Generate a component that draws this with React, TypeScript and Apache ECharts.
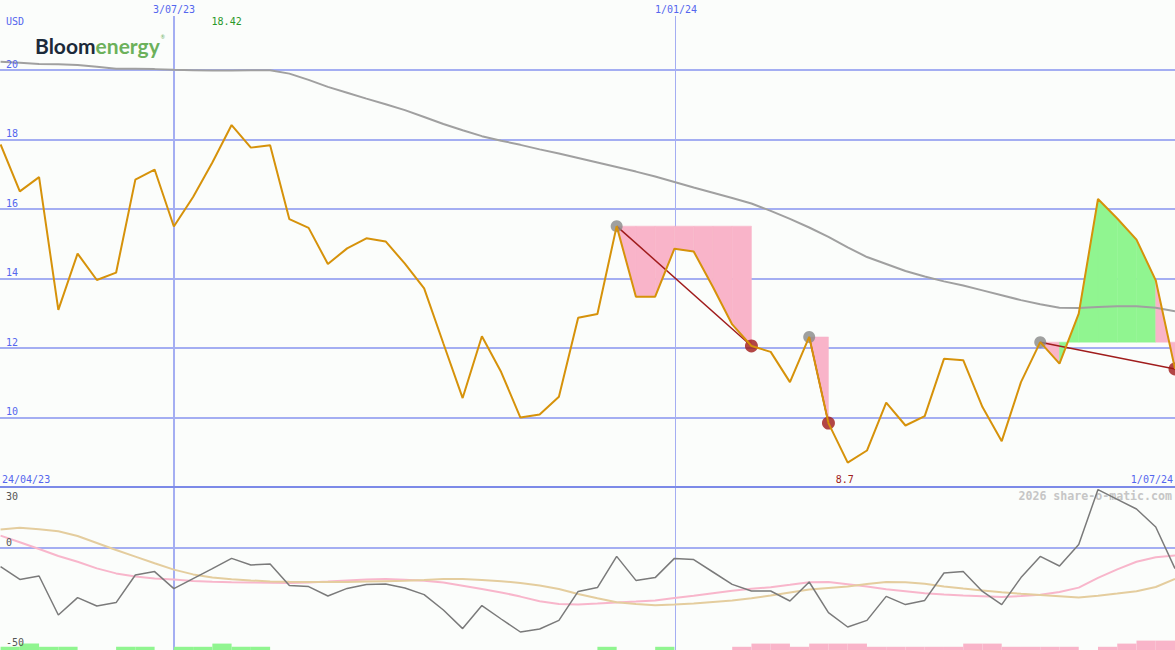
import React, { useEffect, useRef } from "react";
import * as echarts from "echarts";

// Weekly closes (USD), week 0 = 1/05/23, last week = 1/07/24
const priceValues = [
  17.86, 16.51, 16.92, 13.1, 14.72, 13.96, 14.17, 16.85, 17.14, 15.5,
  16.35, 17.34, 18.42, 17.77, 17.84, 15.71, 15.46, 14.42, 14.87, 15.16,
  15.07, 14.43, 13.72, 12.13, 10.56, 12.34, 11.31, 10.0, 10.09, 10.6,
  12.87, 12.98, 15.51, 13.48, 13.48, 14.86, 14.78, 13.76, 12.68, 12.06,
  11.89, 11.02, 12.32, 9.84, 8.7, 9.05, 10.43, 9.77, 10.04, 11.69,
  11.65, 10.3, 9.32, 11.02, 12.17, 11.55, 12.99, 16.29, 15.73, 15.12,
  13.95, 11.4,
];

// Long moving average (gray)
const maValues = [
  20.24, 20.21, 20.18, 20.17, 20.15, 20.1, 20.04, 20.04, 20.03, 20.01,
  20.0, 19.99, 19.99, 20.0, 20.0, 19.9, 19.72, 19.52, 19.35, 19.18,
  19.02, 18.85, 18.65, 18.45, 18.27, 18.1, 17.97, 17.85, 17.72, 17.6,
  17.47, 17.34, 17.21, 17.08, 16.94, 16.78, 16.62, 16.47, 16.32, 16.16,
  15.95, 15.72, 15.47, 15.2, 14.9, 14.62, 14.42, 14.22, 14.06, 13.92,
  13.8, 13.66, 13.52, 13.38, 13.26, 13.16, 13.15, 13.18, 13.2, 13.2,
  13.16, 13.06,
];

// Lower panel: oscillator (gray), signal (pink), slow (tan)
const oscValues = [
  -9.3, -15.7, -14, -33.5, -24.8, -29, -27.3, -13.5, -11.8, -20.3,
  -15.3, -10.3, -5.2, -8.5, -8, -18.8, -19.3, -24, -20.2, -18.2,
  -18, -20, -23.3, -31, -40.3, -28.8, -35.5, -42, -40.5, -36.2,
  -21.7, -19.8, -4.2, -16.2, -14.8, -5.2, -5.8, -12, -18.2, -21.5,
  -21.5, -26.5, -17, -32.3, -39.5, -36.2, -24.2, -28.3, -26.2, -12.5,
  -11.8, -21.7, -28.3, -14.8, -4.2, -9, 1.8, 29.2, 24.3, 19.5,
  10.5, -10.3,
];
const oscSignalValues = [
  6.2, 2.9, -0.5, -4.0, -6.9, -10.2, -12.7, -14.2, -15.2, -15.8,
  -16.5, -16.9, -17.1, -17.2, -17.4, -17.5, -17.3, -16.8, -16.2, -15.7,
  -15.5, -15.9, -16.4, -17.3, -18.9, -20.5, -22.2, -24.3, -26.6, -28.0,
  -28.3, -27.8, -27.2, -26.8, -26.3, -25.0, -23.9, -22.6, -21.4, -20.4,
  -19.6, -18.4, -17.1, -17.0, -18.1, -19.2, -20.6, -21.6, -22.6, -23.2,
  -23.7, -24.1, -24.5, -24.0, -23.4, -22.0, -19.8, -14.9, -10.7, -6.9,
  -4.6, -3.7,
];
const oscSlowValues = [
  9.2, 10.1, 9.4, 8.4, 6.0, 2.5, -1.0, -4.3, -7.6, -10.8,
  -13.2, -14.8, -15.6, -16.2, -16.7, -16.9, -17.0, -17.0, -17.0, -16.8,
  -16.6, -16.4, -16.0, -15.5, -15.5, -16.0, -16.6, -17.5, -18.7, -20.5,
  -23.0, -25.1, -27.1, -28.0, -28.6, -28.3, -27.8, -27.0, -26.3, -25.1,
  -23.8, -22.3, -20.8, -20.0, -19.2, -18.0, -17.0, -17.1, -17.9, -19.2,
  -20.3, -21.2, -22.1, -22.9, -23.5, -24.1, -24.8, -23.9, -22.8, -21.6,
  -19.5, -15.5,
];

// Weekly bars at the bottom of the lower panel (segment i covers week i..i+1)
const greenBars = [
  1.6, 3.2, 1.6, 1.6, 0, 0, 1.6, 1.6, 0, 1.6,
  1.6, 3.2, 1.6, 1.6, 0, 0, 0, 0, 0, 0,
  0, 0, 0, 0, 0, 0, 0, 0, 0, 0,
  0, 1.6, 0, 0, 1.6, 0, 0, 0, 0, 0,
  0, 0, 0, 0, 0, 0, 0, 0, 0, 0,
  0, 0, 0, 0, 0, 0, 0, 0, 0, 0,
  0,
];
const pinkBars = [
  0, 0, 0, 0, 0, 0, 0, 0, 0, 0,
  0, 0, 0, 0, 0, 0, 0, 0, 0, 0,
  0, 0, 0, 0, 0, 0, 0, 0, 0, 0,
  0, 0, 0, 0, 0, 0, 0, 0, 1.6, 3.2,
  3.2, 1.6, 3.2, 3.2, 3.2, 1.6, 1.6, 1.6, 1.6, 1.6,
  3.2, 3.2, 1.6, 1.6, 1.6, 1.6, 0, 1.6, 3.2, 4.7,
  4.7,
];

// Trend signals: peak week -> end week, fill between peak level and price
const signalStart = [32, 42, 54];
const signalEnd = [39, 43, 61];
const greenFillSegments = [55, 56, 57, 58, 59];

const priceGridValues = [10, 12, 14, 16, 18, 20];
const panelSplitValue = 8;
const lowerGridValues = [0];
const lowerTickValues = [30, 0, -50];
const dateMarkerIndex = [9, 35];
const dateMarkerLabels = ["3/07/23", "1/01/24"];
const rangeLabels = ["24/04/23", "1/07/24"];
const currencyLabel = "USD";
const watermark = "2026 share-o-matic.com";

const X_MIN = -0.03;
const X_MAX = 61.0;
const Y_MIN = 8;
const Y_MAX = 22.02;
const L_MIN = -51;
const L_MAX = 30.5;

const GRID_C = "#a4aef2";
const SPLIT_C = "#7c8ae8";
const LABEL_C = "#5466ee";
const PINK = "#f9b4c9";
const GREEN = "#90f590";
const MONO = '"DejaVu Sans Mono", monospace';

export default function App() {
  const ref = useRef<HTMLDivElement>(null);

  useEffect(() => {
    const el = ref.current!;
    const chart = echarts.init(el, null, { renderer: "svg" });

    const pair = (arr: number[]) => arr.map((v, i) => [i, v]);

    const fillData: number[][] = [];
    signalStart.forEach((s, k) => {
      const L = priceValues[s];
      for (let i = s; i < signalEnd[k]; i++) {
        fillData.push([i, L, priceValues[i], priceValues[i + 1], greenFillSegments.includes(i) ? 1 : 0]);
      }
    });

    const barData: number[][] = [];
    greenBars.forEach((h, i) => { if (h > 0) barData.push([i, h, 1]); });
    pinkBars.forEach((h, i) => { if (h > 0) barData.push([i, h, 0]); });

    const option: any = {
      animation: false,
      backgroundColor: "#fbfdfb",
      grid: [
        { left: 0, right: 0, top: 0, height: 487 },
        { left: 0, right: 0, top: 487, height: 163 },
      ],
      xAxis: [
        { type: "value", gridIndex: 0, min: X_MIN, max: X_MAX, show: false },
        { type: "value", gridIndex: 1, min: X_MIN, max: X_MAX, show: false },
      ],
      yAxis: [
        { type: "value", gridIndex: 0, min: Y_MIN, max: Y_MAX, show: false },
        { type: "value", gridIndex: 1, min: L_MIN, max: L_MAX, show: false },
      ],
      series: [
        {
          type: "scatter",
          xAxisIndex: 0, yAxisIndex: 0,
          data: signalStart.map((i) => [i, priceValues[i]]),
          symbolSize: 12,
          itemStyle: { color: "#888888" },
          silent: true,
        },
        {
          type: "custom",
          xAxisIndex: 0, yAxisIndex: 0,
          data: fillData,
          encode: { x: 0, y: 1 },
          silent: true,
          clip: true,
          renderItem: (params: any, api: any) => {
            const i = api.value(0);
            const L = api.value(1);
            const a = api.value(2);
            const b = api.value(3);
            const g = api.value(4);
            const pts = [api.coord([i, L]), api.coord([i, a]), api.coord([i + 1, b]), api.coord([i + 1, L])];
            const c = g ? GREEN : PINK;
            return { type: "polygon", shape: { points: pts }, style: { fill: c, stroke: c, lineWidth: 0.5 } };
          },
        },
        {
          type: "line",
          xAxisIndex: 0, yAxisIndex: 0,
          data: pair(maValues),
          showSymbol: false,
          symbol: "none",
          lineStyle: { color: "#a0a0a0", width: 2 },
          silent: true,
        },
        {
          type: "scatter",
          xAxisIndex: 0, yAxisIndex: 0,
          data: signalEnd.map((i) => [i, priceValues[i]]),
          symbolSize: 13,
          itemStyle: { color: "#a01818" },
          silent: true,
        },
        {
          type: "lines",
          coordinateSystem: "cartesian2d",
          xAxisIndex: 0, yAxisIndex: 0,
          data: signalStart.map((s, k) => ({
            coords: [[s, priceValues[s]], [signalEnd[k], priceValues[signalEnd[k]]]],
          })),
          lineStyle: { color: "#a01c1c", width: 1.5, opacity: 1, curveness: 0 },
          silent: true,
        },
        {
          type: "line",
          xAxisIndex: 0, yAxisIndex: 0,
          data: pair(priceValues),
          showSymbol: false,
          symbol: "none",
          lineStyle: { color: "#d6920a", width: 2 },
          silent: true,
        },
        {
          type: "custom",
          xAxisIndex: 1, yAxisIndex: 1,
          data: barData,
          encode: { x: 0, y: 1 },
          silent: true,
          renderItem: (params: any, api: any) => {
            const i = api.value(0);
            const h = api.value(1);
            const g = api.value(2);
            const p0 = api.coord([i, L_MIN]);
            const p1 = api.coord([i + 1, L_MIN + h]);
            return {
              type: "rect",
              shape: { x: p0[0], y: p1[1], width: p1[0] - p0[0], height: p0[1] - p1[1] },
              style: { fill: g ? GREEN : PINK },
            };
          },
        },
        {
          type: "line",
          xAxisIndex: 1, yAxisIndex: 1,
          data: pair(oscSignalValues),
          showSymbol: false, symbol: "none",
          lineStyle: { color: "#f8b6cb", width: 2 },
          silent: true,
        },
        {
          type: "line",
          xAxisIndex: 1, yAxisIndex: 1,
          data: pair(oscSlowValues),
          showSymbol: false, symbol: "none",
          lineStyle: { color: "#e4cd9e", width: 2 },
          silent: true,
        },
        {
          type: "line",
          xAxisIndex: 1, yAxisIndex: 1,
          data: pair(oscValues),
          showSymbol: false, symbol: "none",
          lineStyle: { color: "#7a7a7a", width: 1.5 },
          silent: true,
        },
      ],
    };
    chart.setOption(option);

    const toPx = (g: number, x: number, y: number) =>
      chart.convertToPixel({ gridIndex: g } as any, [x, y]) as number[];

    const els: any[] = [];
    priceGridValues.forEach((v) => {
      const y = Math.round(toPx(0, 0, v)[1]);
      els.push({ type: "line", z: 0, silent: true, shape: { x1: 0, y1: y, x2: 1175, y2: y }, style: { stroke: GRID_C, lineWidth: 2 } });
    });
    lowerGridValues.forEach((v) => {
      const y = Math.round(toPx(1, 0, v)[1]);
      els.push({ type: "line", z: 0, silent: true, shape: { x1: 0, y1: y, x2: 1175, y2: y }, style: { stroke: GRID_C, lineWidth: 2 } });
    });
    dateMarkerIndex.forEach((i, k) => {
      const w = k === 0 ? 2 : 1;
      let x = Math.round(toPx(0, i, Y_MIN)[0]);
      if (w === 1) x += 1.5;
      els.push({ type: "line", z: 0, silent: true, shape: { x1: x, y1: 16, x2: x, y2: 650 }, style: { stroke: GRID_C, lineWidth: w } });
      els.push({ type: "text", z: 10, silent: true, x: Math.round(x), y: 9, style: { text: dateMarkerLabels[k], fill: LABEL_C, font: `10px ${MONO}`, align: "center", verticalAlign: "middle" } });
    });
    const ys = Math.round(toPx(0, 0, panelSplitValue)[1]);
    els.push({ type: "line", z: 1, silent: true, shape: { x1: 0, y1: ys, x2: 1175, y2: ys }, style: { stroke: SPLIT_C, lineWidth: 2 } });

    priceGridValues.forEach((v) => {
      const y = toPx(0, 0, v)[1];
      els.push({ type: "text", z: 10, silent: true, x: 6, y: y - 6, style: { text: String(v), fill: LABEL_C, font: `10px ${MONO}`, align: "left", verticalAlign: "middle" } });
    });
    lowerTickValues.forEach((v) => {
      const y = toPx(1, 0, v)[1];
      const dy = v >= 30 ? 8 : -6;
      els.push({ type: "text", z: 10, silent: true, x: 6, y: y + dy, style: { text: String(v), fill: "#555555", font: `10px ${MONO}`, align: "left", verticalAlign: "middle" } });
    });

    els.push({ type: "text", z: 10, silent: true, x: 6, y: 21, style: { text: currencyLabel, fill: LABEL_C, font: `10px ${MONO}`, align: "left", verticalAlign: "middle" } });

    let maxI = 0, minI = 0;
    priceValues.forEach((v, i) => { if (v > priceValues[maxI]) maxI = i; if (v < priceValues[minI]) minI = i; });
    els.push({ type: "text", z: 10, silent: true, x: toPx(0, maxI, 0)[0] - 5, y: 21, style: { text: priceValues[maxI].toFixed(2), fill: "#2a982a", font: `10px ${MONO}`, align: "center", verticalAlign: "middle" } });
    els.push({ type: "text", z: 10, silent: true, x: toPx(0, minI, 0)[0] - 3, y: 479, style: { text: String(priceValues[minI]), fill: "#a02020", font: `10px ${MONO}`, align: "center", verticalAlign: "middle" } });

    els.push({ type: "text", z: 10, silent: true, x: 2, y: 479, style: { text: rangeLabels[0], fill: LABEL_C, font: `10px ${MONO}`, align: "left", verticalAlign: "middle" } });
    els.push({ type: "text", z: 10, silent: true, x: 1173, y: 479, style: { text: rangeLabels[1], fill: LABEL_C, font: `10px ${MONO}`, align: "right", verticalAlign: "middle" } });

    els.push({ type: "text", z: 1, silent: true, x: 1172, y: 496, style: { text: watermark, fill: "#c6c6c6", font: `bold 11.6px ${MONO}`, align: "right", verticalAlign: "middle" } });

    els.push({
      type: "text", z: 10, silent: true, x: 35, y: 45,
      style: {
        text: "{a|Bloom}{b|energy}{c|®}",
        verticalAlign: "middle",
        align: "left",
        rich: {
          a: { fontFamily: "Lato", fontSize: 21, fontWeight: "bold", fill: "#1c2a3a" },
          b: { fontFamily: "Lato", fontSize: 21, fontWeight: "bold", fill: "#6cb15b" },
          c: { fontFamily: "Lato", fontSize: 5, fill: "#6cb15b", verticalAlign: "top", padding: [0, 0, 10, 1] },
        },
      },
    });

    chart.setOption({ graphic: els });

    return () => chart.dispose();
  }, []);

  return (
    <div
      ref={ref}
      style={{ position: "fixed", left: 0, top: 0, width: 1175, height: 650, background: "#fbfdfb" }}
    />
  );
}
